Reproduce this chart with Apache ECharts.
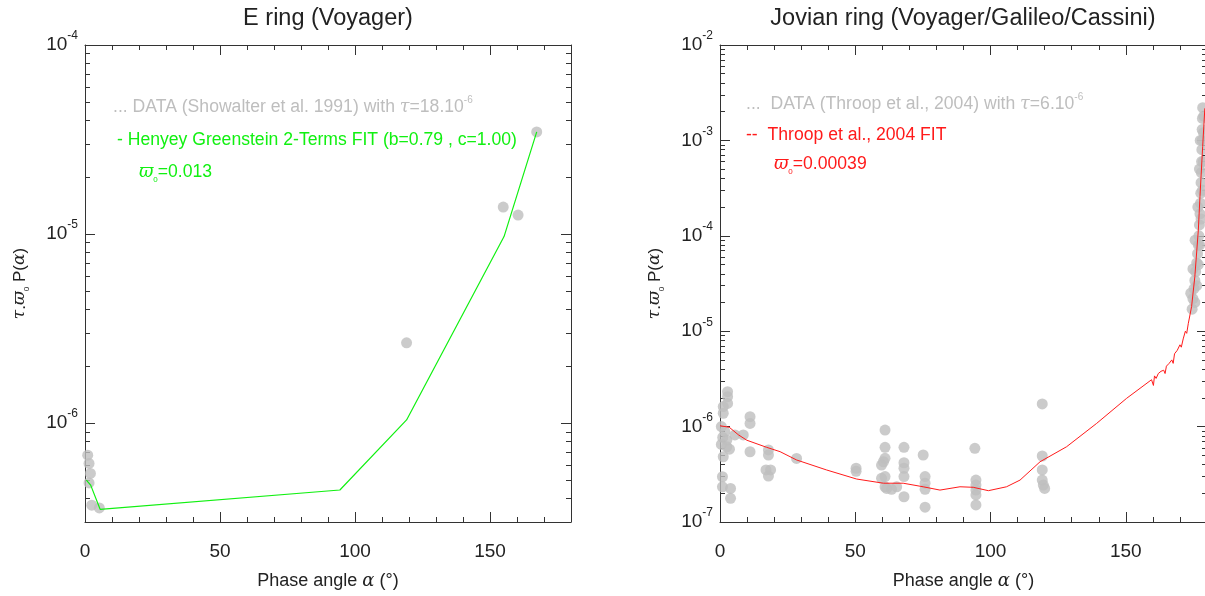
<!DOCTYPE html>
<html><head><meta charset="utf-8">
<script src="https://cdn.jsdelivr.net/npm/echarts@6/dist/echarts.min.js"></script>
<style>html,body{margin:0;padding:0;background:#fff}#c{width:1205px;height:596px}</style>
</head><body><div id="c"></div>
<script>
// ---------- data ----------
const xRange = [0, 180];
const xMajorStep = 50;
const xMinorStep = 10;
const eRingYRange = [3e-7, 1e-4];
const jovYRange = [1e-7, 1e-2];
const minorMultipliers = [2, 3, 4, 5, 6, 7, 8, 9];

// E ring (Voyager) – Showalter et al. 1991 data
const eRingData = [
  [1, 6.77e-7], [1.5, 6.12e-7], [2, 5.42e-7], [1.5, 4.83e-7], [2.5, 3.68e-7], [5.3, 3.56e-7],
  [119.1, 2.66e-6], [154.9, 1.39e-5], [160.4, 1.26e-5], [167.3, 3.47e-5]
];
// Henyey-Greenstein 2-terms fit
const eRingFit = [
  [0.5, 5.0e-7], [2.1, 4.7e-7], [5.6, 3.5e-7], [94.4, 4.43e-7], [119.1, 1.04e-6], [155.2, 9.7e-6], [167.3, 3.47e-5]
];

// Jovian ring – Throop et al. 2004 data
const jovDataLow = [
  [2.8, 2.32e-6], [2.8, 2.06e-6], [2.8, 1.75e-6], [1.2, 1.62e-6], [1.2, 1.38e-6], [0.5, 1.0e-6],
  [1.8, 8.85e-7], [1, 7.7e-7], [2.5, 7.2e-7], [0.5, 6.5e-7], [2.5, 6.15e-7], [3.5, 5.8e-7],
  [1.2, 4.83e-7], [0.9, 2.98e-7], [0.9, 2.34e-7], [3.9, 2.25e-7], [3.9, 1.77e-7],
  [5.5, 8.17e-7], [8.6, 8.17e-7], [11.1, 1.27e-6], [11.1, 1.08e-6], [11.1, 5.45e-7],
  [17.9, 5.69e-7], [17.9, 5.04e-7], [17, 3.51e-7], [18.7, 3.51e-7], [17.9, 3.03e-7],
  [28.3, 4.64e-7], [50.3, 3.66e-7], [50.3, 3.4e-7]
];
const jovDataMid = [
  [61, 9.2e-7], [61, 6.07e-7], [61, 4.65e-7], [60.4, 4.28e-7], [59.7, 3.95e-7], [59.7, 2.87e-7],
  [61, 2.99e-7], [61.6, 2.25e-7], [63.4, 2.2e-7], [65.3, 2.34e-7], [61, 2.34e-7],
  [68, 6.07e-7], [68, 4.18e-7], [68, 3.66e-7], [68, 2.99e-7], [68, 1.84e-7],
  [75.1, 5.04e-7], [75.8, 2.99e-7], [75.8, 2.55e-7], [75.8, 2.2e-7], [75.8, 1.43e-7],
  [94.2, 5.92e-7], [94.6, 2.75e-7], [94.6, 2.44e-7], [94.6, 2.16e-7], [94.6, 1.92e-7], [94.6, 1.51e-7],
  [119.1, 1.73e-6], [119.1, 4.92e-7], [119.1, 3.51e-7], [119.1, 2.75e-7], [119.5, 2.44e-7], [120, 2.25e-7]
];
const jovDataHigh = [
  [174.5, 1.7e-5], [174.8, 2.2e-5], [175.2, 2.8e-5], [175.5, 3.4e-5], [175.8, 4.2e-5], [176.2, 5.2e-5],
  [176.5, 6.5e-5], [176.8, 8e-5], [177, 1.0e-4], [177.2, 1.3e-4], [177.4, 1.7e-4], [177.6, 2.2e-4],
  [177.7, 2.8e-4], [177.8, 3.6e-4], [177.9, 4.6e-4], [178, 6e-4], [178.1, 8e-4], [178.2, 1.0e-3],
  [178.2, 1.3e-3], [178.3, 1.7e-3], [178.4, 2.2e-3],
  [175.5, 2e-5], [176.2, 3e-5], [176.8, 5e-5], [177.3, 8e-5], [177.8, 1.5e-4], [178.3, 3e-4],
  [178.6, 6e-4], [178.7, 1.2e-3], [178.8, 1.8e-3],
  [174, 2.5e-5], [174.8, 4.5e-5], [175.6, 9e-5], [176.6, 2e-4], [177.2, 5e-4], [177.5, 1e-3]
];
// Throop et al. 2004 fit
const jovFit = [
  [0, 1.02e-6], [3.4, 9.85e-7], [6.8, 8.2e-7], [9.9, 7.2e-7], [17.2, 6.07e-7], [22.2, 5.46e-7],
  [28.3, 4.47e-7], [39.4, 3.51e-7], [50.5, 2.82e-7], [60.4, 2.55e-7], [67.7, 2.55e-7], [75.1, 2.34e-7],
  [81.3, 2.16e-7], [88.7, 2.34e-7], [93.6, 2.31e-7], [99.2, 2.13e-7], [105.9, 2.34e-7], [110.9, 2.75e-7],
  [118.3, 4.28e-7], [128.1, 6.15e-7], [139.2, 1.08e-6], [150.3, 1.98e-6], [159.5, 3.1e-6], [160.2, 2.7e-6],
  [160.6, 3.4e-6], [161.2, 3.2e-6], [162, 3.6e-6], [163, 3.8e-6], [164, 3.9e-6], [164.5, 3.6e-6],
  [165, 4.3e-6], [166, 4.6e-6], [167, 5.0e-6], [167.5, 4.6e-6], [168, 5.8e-6], [169, 6.3e-6],
  [170, 7.2e-6], [170.5, 6.8e-6], [171.2, 8.3e-6], [172, 1.0e-5], [172.5, 9.5e-6], [173.1, 1.21e-5],
  [174.3, 1.81e-5], [175.5, 3.72e-5], [176.8, 1.15e-4], [177.4, 2.57e-4], [178.4, 8.6e-4], [179.2, 2.17e-3]
];

// ---------- styling ----------
const AX = '#333';
const TXT = '#222';
const SANS = '"Liberation Sans", Arial, sans-serif';
const GREEK = '"DejaVu Serif", serif';
const GRAY = '#bebebe';
const GREEN = '#11f011';
const RED = '#ff1a1a';
const LEG = 17.6;

function minorLogTicks(range) {
  const out = [];
  const lo = Math.floor(Math.log10(range[0])), hi = Math.ceil(Math.log10(range[1]));
  for (let n = lo; n <= hi; n++) {
    minorMultipliers.forEach(k => {
      const v = k * Math.pow(10, n);
      if (v >= range[0] * 0.9999 && v <= range[1] * 1.0001) out.push(Math.log10(v));
    });
  }
  return out;
}

function powLabel(v) {
  const e = Math.round(Math.log10(v));
  if (Math.abs(v / Math.pow(10, e) - 1) > 1e-6) return '';
  return '{b|10}{s|' + e + '}';
}

const xAxes = [], yAxes = [];
function addAxes(g, yRange) {
  const base = { gridIndex: g, type: 'value', min: xRange[0], max: xRange[1], splitLine: { show: false } };
  xAxes.push(Object.assign({}, base, {
    position: 'bottom', interval: xMajorStep,
    axisLine: { show: true, onZero: false, lineStyle: { color: AX, width: 1 } },
    axisTick: { show: true, inside: true, length: 10, lineStyle: { color: AX } },
    axisLabel: { show: true, margin: 20, color: TXT, fontSize: 19, fontFamily: SANS,
      formatter: v => (v % xMajorStep === 0 ? String(v) : '') },
    name: 'Phase angle {i|α} (°)', nameLocation: 'middle', nameGap: 50,
    nameTextStyle: { color: TXT, fontSize: 18, fontFamily: SANS,
      rich: { i: { fontFamily: GREEK, fontStyle: 'italic', fontSize: 18, color: TXT } } }
  }));
  xAxes.push(Object.assign({}, base, {
    position: 'bottom', interval: xMinorStep,
    axisLine: { show: false, onZero: false },
    axisTick: { show: true, inside: true, length: 5, lineStyle: { color: AX } },
    axisLabel: { show: false }
  }));
  xAxes.push(Object.assign({}, base, {
    position: 'top', interval: xMajorStep,
    axisLine: { show: true, onZero: false, lineStyle: { color: AX, width: 1 } },
    axisTick: { show: true, inside: true, length: 10, lineStyle: { color: AX } },
    axisLabel: { show: false }
  }));
  xAxes.push(Object.assign({}, base, {
    position: 'top', interval: xMinorStep,
    axisLine: { show: false, onZero: false },
    axisTick: { show: true, inside: true, length: 5, lineStyle: { color: AX } },
    axisLabel: { show: false }
  }));

  const logBase = { gridIndex: g, type: 'log', logBase: 10, min: yRange[0], max: yRange[1], splitLine: { show: false }, minorTick: { show: false } };
  const valBase = { gridIndex: g, type: 'value', min: Math.log10(yRange[0]), max: Math.log10(yRange[1]), splitLine: { show: false } };
  const minors = minorLogTicks(yRange);
  yAxes.push(Object.assign({}, logBase, {
    position: 'left',
    axisLine: { show: true, onZero: false, lineStyle: { color: AX, width: 1 } },
    axisTick: { show: true, inside: true, length: 10, lineStyle: { color: AX } },
    axisLabel: { show: true, margin: 7, formatter: powLabel,
      rich: { b: { fontSize: 19, lineHeight: 30, color: TXT, fontFamily: SANS },
              s: { fontSize: 12, verticalAlign: 'top', color: TXT, fontFamily: SANS } } },
    name: '{i|τ}.{i|ϖ}{sub|0} P({i|α})', nameLocation: 'middle', nameGap: 54,
    nameTextStyle: { color: TXT, fontSize: 17, fontFamily: SANS, lineHeight: 22,
      rich: { i: { fontFamily: GREEK, fontStyle: 'italic', fontSize: 17, color: TXT, lineHeight: 22 },
              sub: { fontSize: 8, verticalAlign: 'bottom', color: TXT, fontFamily: SANS } } }
  }));
  yAxes.push(Object.assign({}, valBase, {
    position: 'left',
    axisLine: { show: false, onZero: false },
    axisTick: { show: true, inside: true, length: 5, customValues: minors, lineStyle: { color: AX } },
    axisLabel: { show: false }
  }));
  yAxes.push(Object.assign({}, logBase, {
    position: 'right',
    axisLine: { show: true, onZero: false, lineStyle: { color: AX, width: 1 } },
    axisTick: { show: true, inside: true, length: 10, lineStyle: { color: AX } },
    axisLabel: { show: false }
  }));
  yAxes.push(Object.assign({}, valBase, {
    position: 'right',
    axisLine: { show: false, onZero: false },
    axisTick: { show: true, inside: true, length: 5, customValues: minors, lineStyle: { color: AX } },
    axisLabel: { show: false }
  }));
}
addAxes(0, eRingYRange);
addAxes(1, jovYRange);

const legendRich = (size, color) => ({
  i: { fontFamily: GREEK, fontStyle: 'italic', fontSize: size, fill: color, lineHeight: 24 },
  s: { fontSize: 10, verticalAlign: 'top', fill: color, fontFamily: SANS },
  sub: { fontSize: 8, verticalAlign: 'bottom', fill: color, fontFamily: SANS },
  n: { fontSize: size, fill: color, fontFamily: SANS, lineHeight: 24 }
});
function gtext(x, y, text, color, size, align) {
  return { type: 'text', x: x, y: y, silent: true,
    style: { text: text, fill: color, font: size + 'px ' + SANS, align: align || 'left', verticalAlign: 'middle',
      rich: legendRich(size, color) } };
}

const option = {
  backgroundColor: '#fff',
  animation: false,
  grid: [
    { left: 85, top: 45, width: 486, height: 477, containLabel: false, outerBoundsMode: 'none' },
    { left: 720, top: 45, width: 487, height: 477, containLabel: false, outerBoundsMode: 'none' }
  ],
  xAxis: xAxes,
  yAxis: yAxes,
  graphic: [
    gtext(328, 19, 'E ring (Voyager)', TXT, 23.5, 'center'),
    gtext(963, 19, 'Jovian ring (Voyager/Galileo/Cassini)', TXT, 23.5, 'center'),
    gtext(113, 107, '{n|... DATA (Showalter et al. 1991) with }{i|τ}{n|=18.10}{s|-6}', GRAY, LEG),
    gtext(117, 140, '{n|- Henyey Greenstein 2-Terms FIT (b=0.79 , c=1.00)}', GREEN, LEG),
    gtext(139, 172, '{i|ϖ}{sub|0}{n|=0.013}', GREEN, LEG),
    gtext(746, 104, '{n|...  DATA (Throop et al., 2004) with }{i|τ}{n|=6.10}{s|-6}', GRAY, LEG),
    gtext(746, 135, '{n|--  Throop et al., 2004 FIT}', RED, LEG),
    gtext(774, 164, '{i|ϖ}{sub|0}{n|=0.00039}', RED, LEG)
  ],
  series: [
    { type: 'scatter', name: 'E ring data', xAxisIndex: 0, yAxisIndex: 0, data: eRingData,
      symbol: 'circle', symbolSize: 11, itemStyle: { color: GRAY }, silent: true },
    { type: 'line', name: 'E ring fit', xAxisIndex: 0, yAxisIndex: 0, data: eRingFit,
      showSymbol: false, symbol: 'none', lineStyle: { color: GREEN, width: 1.2 }, silent: true },
    { type: 'scatter', name: 'Jovian data low', xAxisIndex: 4, yAxisIndex: 4, data: jovDataLow,
      symbol: 'circle', symbolSize: 11, itemStyle: { color: GRAY }, silent: true },
    { type: 'scatter', name: 'Jovian data mid', xAxisIndex: 4, yAxisIndex: 4, data: jovDataMid,
      symbol: 'circle', symbolSize: 11, itemStyle: { color: GRAY }, silent: true },
    { type: 'scatter', name: 'Jovian data high', xAxisIndex: 4, yAxisIndex: 4, data: jovDataHigh,
      symbol: 'circle', symbolSize: 11, itemStyle: { color: GRAY }, silent: true },
    { type: 'line', name: 'Throop fit', xAxisIndex: 4, yAxisIndex: 4, data: jovFit,
      showSymbol: false, symbol: 'none', lineStyle: { color: RED, width: 1 }, silent: true }
  ]
};
const chart = echarts.init(document.getElementById('c'), null, { renderer: 'canvas' });
chart.setOption(option);
</script>
</body></html>
